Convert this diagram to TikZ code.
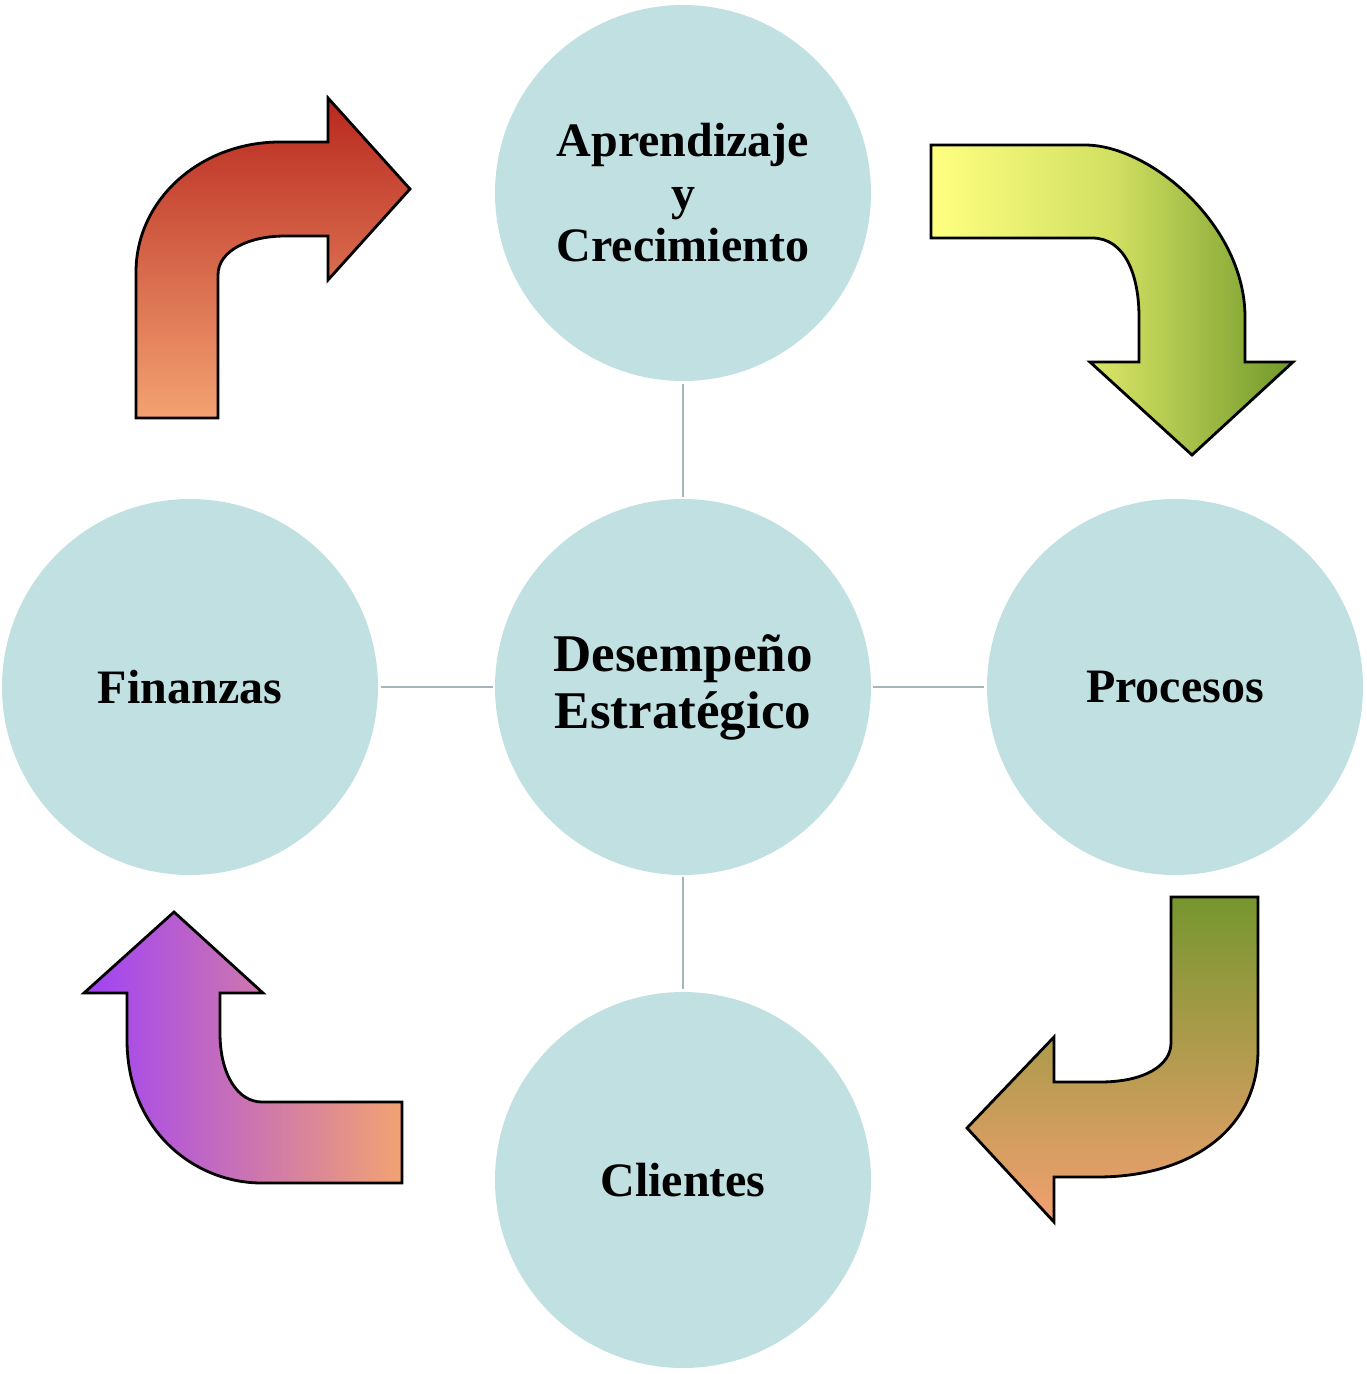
\documentclass[tikz,border=0pt]{standalone}
\usepackage{fontspec}
\setmainfont{Liberation Serif}
\definecolor{circfill}{RGB}{193,224,226}
\definecolor{linkgray}{RGB}{165,182,186}
\definecolor{tlTop}{RGB}{184,40,30}
\definecolor{tlBot}{RGB}{243,162,114}
\definecolor{trLeft}{RGB}{255,255,128}
\definecolor{trMid}{RGB}{210,224,98}
\definecolor{trRight}{RGB}{112,152,42}
\definecolor{brTop}{RGB}{118,150,46}
\definecolor{brBot}{RGB}{242,160,112}
\definecolor{blLeft}{RGB}{160,66,246}
\definecolor{blRight}{RGB}{242,162,114}
\tikzset{
  circ/.style={circle, fill=circfill, minimum size=376pt, inner sep=0pt,
    font=\fontsize{48}{52.5}\selectfont\bfseries, align=center},
  link/.style={draw=linkgray, line width=1.6pt},
  bentarrow/.style={draw=black, line width=2.8pt, line join=miter}
}
\begin{document}
\begin{tikzpicture}[x=1pt,y=-1pt]
\useasboundingbox (0,0) rectangle (1366,1374);
% circles
\node[circ] (apr) at (683,193) {Aprendizaje\\y\\Crecimiento};
\node[circ, font=\fontsize{53}{57}\selectfont\bfseries] (des) at (683,687) {Desempeño\\Estratégico};
\node[circ] (fin) at (190,687) {Finanzas};
\node[circ] (pro) at (1175,687) {Procesos};
\node[circ] (cli) at (683,1180) {Clientes};
% connectors
\draw[link, shorten <=3pt, shorten >=2pt] (apr) -- (des);
\draw[link, shorten <=3pt, shorten >=2pt] (fin) -- (des);
\draw[link, shorten <=2pt, shorten >=3pt] (des) -- (pro);
\draw[link, shorten <=2pt, shorten >=3pt] (des) -- (cli);
% top-left arrow
\path[bentarrow, top color=tlTop, bottom color=tlBot]
  (136,418) -- (136,272) .. controls (136,200) and (200,142) .. (280,142)
  -- (328,142) -- (328,98) -- (410,189) -- (328,280) -- (328,236) -- (285,236)
  .. controls (250,236) and (218,250) .. (218,275) -- (218,418) -- cycle;
% top-right arrow
\path[bentarrow, left color=trLeft, right color=trRight, middle color=trMid]
  (931,145) -- (1085,145) .. controls (1150,145) and (1245,225) .. (1245,317)
  -- (1245,362) -- (1293,362) -- (1192,455) -- (1090,362) -- (1139,362) -- (1139,317)
  .. controls (1139,275) and (1125,238) .. (1092,238) -- (931,238) -- cycle;
% bottom-right arrow
\path[bentarrow, top color=brTop, bottom color=brBot]
  (1171,897) -- (1258,897) -- (1258,1050) .. controls (1258,1130) and (1190,1177) .. (1097,1177)
  -- (1054,1177) -- (1054,1222) -- (967,1128) -- (1054,1037) -- (1054,1082) -- (1100,1082)
  .. controls (1145,1082) and (1171,1065) .. (1171,1043) -- cycle;
% bottom-left arrow
\path[bentarrow, left color=blLeft, right color=blRight]
  (174,912) -- (263,993) -- (220,993) -- (220,1033) .. controls (220,1075) and (238,1102) .. (262,1102)
  -- (402,1102) -- (402,1183) -- (262,1183) .. controls (192,1183) and (127,1128) .. (127,1040)
  -- (127,993) -- (84,993) -- cycle;
\end{tikzpicture}
\end{document}
